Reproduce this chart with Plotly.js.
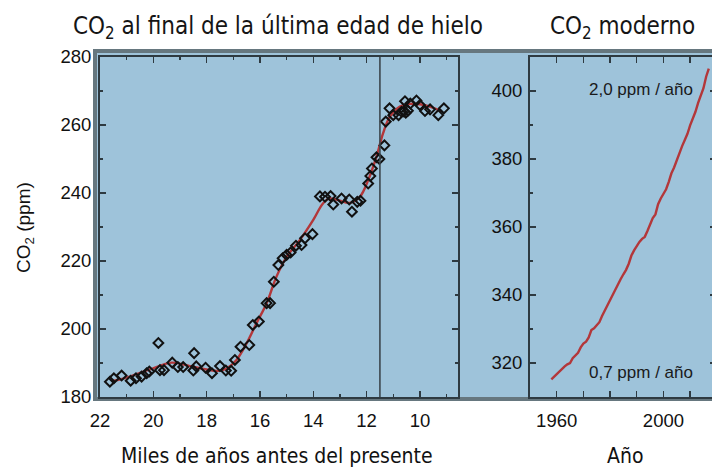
<!DOCTYPE html>
<html><head><meta charset="utf-8">
<script src="https://cdn.plot.ly/plotly-3.0.1.min.js"></script>
<style>html,body{margin:0;padding:0;overflow:hidden;background:#fff}#chart{width:730px;height:470px}</style>
</head><body><div id="chart"></div>
<script>
// Ice-core CO2 (thousands of years before present, ppm)
const iceAge=[21.63,21.48,21.19,20.85,20.65,20.44,20.25,20.15,19.81,19.75,19.60,19.29,19.08,18.88,18.47,18.50,18.39,18.04,17.80,17.50,17.28,17.08,16.94,16.73,16.40,16.27,16.04,15.75,15.62,15.48,15.31,15.15,15.00,14.85,14.65,14.44,14.31,14.03,13.75,13.56,13.35,13.25,12.94,12.65,12.55,12.35,12.23,11.94,11.86,11.80,11.63,11.52,11.33,11.28,11.14,11.00,10.80,10.69,10.60,10.53,10.56,10.45,10.36,10.13,10.00,9.81,9.62,9.31,9.10];
const iceCO2=[184.5,185.5,186.3,184.8,185.5,186.0,187.0,187.5,195.9,187.9,187.9,190.1,188.8,188.8,192.9,187.8,189.0,188.6,187.0,189.1,187.8,187.7,190.9,194.8,195.3,201.2,202.2,207.6,207.6,213.9,218.8,220.8,221.8,222.5,224.5,224.7,226.7,227.9,239.0,238.9,239.1,236.6,238.4,238.1,234.5,237.4,237.7,242.8,245.0,247.2,250.5,250.0,254.0,261.0,264.9,262.9,262.9,263.9,264.0,263.6,267.0,264.2,266.3,267.2,265.9,264.1,264.6,262.9,264.9];
// Smoothed fit
const fitAge=[21.56,20.88,20.13,19.31,18.63,18.00,17.56,17.25,16.88,16.50,16.13,15.75,15.38,15.00,14.50,14.00,13.63,13.38,13.06,12.63,12.25,11.94,11.63,11.38,11.13,10.75,10.38,10.00,9.63,9.19];
const fitCO2=[184.6,186.0,188.1,190.1,189.1,188.1,187.7,188.4,190.9,195.8,201.7,207.6,215.4,221.2,226.2,232.1,237.0,238.4,237.9,237.1,238.9,243.8,250.7,257.6,262.4,265.4,266.2,266.1,265.4,264.1];
// Modern CO2 (year, ppm)
const modYear=[1958,1959,1960,1961,1962,1963,1964,1965,1966,1967,1968,1969,1970,1971,1972,1973,1974,1975,1976,1977,1978,1979,1980,1981,1982,1983,1984,1985,1986,1987,1988,1989,1990,1991,1992,1993,1994,1995,1996,1997,1998,1999,2000,2001,2002,2003,2004,2005,2006,2007,2008,2009,2010,2011,2012,2013,2014,2015,2016,2017];
const modCO2=[315.2,316.0,316.9,317.6,318.5,319.0,319.6,320.0,321.4,322.2,323.0,324.6,325.7,326.3,327.5,329.7,330.2,331.1,332.0,333.8,335.4,336.8,338.8,340.1,341.5,343.1,344.7,346.1,347.4,349.2,351.6,353.1,354.4,355.6,356.5,357.1,358.8,360.8,362.6,363.7,366.7,368.4,369.6,371.1,373.3,375.8,377.5,379.8,381.9,383.8,385.6,387.4,389.9,391.7,393.9,396.5,398.7,400.8,404.2,406.6];
const yearEnd=11.5;

const W=730,H=470;
const px=v=>v/W, py=v=>1-v/H;
const axisCol='#2e3a41', bg='#9ec3da', frameCol='#66777f', red='#b3373a';
const sans='Liberation Sans, Arial, sans-serif';
const tickFont={family:sans,size:18.5,color:'#111'};
const narrow='Liberation Sans Narrow, DejaVu Sans Condensed, Arial Narrow, sans-serif';

const baseAxis={showline:true,linecolor:axisCol,linewidth:2,mirror:'ticks',ticks:'inside',ticklen:6,tickwidth:1.5,tickcolor:axisCol,showgrid:false,zeroline:false,tickfont:tickFont,fixedrange:true};

const traces=[
 {x:fitAge,y:fitCO2,xaxis:'x',yaxis:'y',mode:'lines',line:{color:red,width:2.4,shape:'spline',smoothing:1},hoverinfo:'skip'},
 {x:iceAge,y:iceCO2,xaxis:'x',yaxis:'y',mode:'markers',marker:{symbol:'diamond-open',size:7.5,color:'#111',line:{width:2,color:'#111'}}},
 {x:modYear,y:modCO2,xaxis:'x2',yaxis:'y2',mode:'lines',line:{color:red,width:2.4}}
];

const layout={
 width:W,height:H,margin:{l:0,r:0,t:0,b:0},showlegend:false,
 paper_bgcolor:'#fff',plot_bgcolor:'rgba(0,0,0,0)',
 xaxis:Object.assign({},baseAxis,{domain:[px(100),px(458.3)],range:[22,8.56],tick0:0,dtick:2,minor:{dtick:1,tick0:0,ticks:'inside',ticklen:3,tickwidth:1.5,tickcolor:axisCol},ticklabelstandoff:6}),
 yaxis:Object.assign({},baseAxis,{domain:[py(397),py(57)],range:[180,280],tick0:0,dtick:20,minor:{dtick:10,tick0:0,ticks:'inside',ticklen:3,tickwidth:1.5,tickcolor:axisCol},ticklabelstandoff:3}),
 xaxis2:Object.assign({},baseAxis,{anchor:'y2',domain:[px(530),px(716)],range:[1950,2019.7],tick0:1960,dtick:40,minor:{dtick:10,tick0:1950,ticks:'inside',ticklen:6,tickwidth:1.5,tickcolor:axisCol},ticklabelstandoff:6}),
 yaxis2:Object.assign({},baseAxis,{anchor:'x2',domain:[py(397),py(57)],range:[310,410],tick0:0,dtick:20,minor:{dtick:10,tick0:0,ticks:'inside',ticklen:3,tickwidth:1.5,tickcolor:axisCol},ticklabelstandoff:2}),
 shapes:[
  {type:'rect',xref:'paper',yref:'paper',x0:px(95),x1:px(760),y0:py(399),y1:py(51),fillcolor:bg,line:{color:frameCol,width:4},layer:'below'},
  {type:'line',xref:'x',yref:'y',x0:yearEnd,x1:yearEnd,y0:180,y1:280,line:{color:'#3c474e',width:1.6}}
 ],
 annotations:[
  {text:'CO<sub>2</sub> al final de la última edad de hielo',xref:'paper',yref:'paper',x:px(278),y:py(27),xanchor:'center',yanchor:'middle',showarrow:false,font:{family:narrow,size:24,color:'#151515'}},
  {text:'CO<sub>2</sub> moderno',xref:'paper',yref:'paper',x:px(622),y:py(27),xanchor:'center',yanchor:'middle',showarrow:false,font:{family:narrow,size:24,color:'#151515'}},
  {text:'Miles de años antes del presente',xref:'paper',yref:'paper',x:px(277),y:py(456),xanchor:'center',yanchor:'middle',showarrow:false,font:{family:narrow,size:21,color:'#111'}},
  {text:'Año',xref:'paper',yref:'paper',x:px(625),y:py(456),xanchor:'center',yanchor:'middle',showarrow:false,font:{family:narrow,size:21,color:'#111'}},
  {text:'CO<sub>2</sub> (ppm)',xref:'paper',yref:'paper',x:px(25),y:py(228),xanchor:'center',yanchor:'middle',textangle:-90,showarrow:false,font:{family:sans,size:19,color:'#111'}},
  {text:'2,0 ppm / año',xref:'paper',yref:'paper',x:px(641),y:py(90),xanchor:'center',yanchor:'middle',showarrow:false,font:{family:sans,size:17,color:'#1a1a1a'}},
  {text:'0,7 ppm / año',xref:'paper',yref:'paper',x:px(641),y:py(372),xanchor:'center',yanchor:'middle',showarrow:false,font:{family:sans,size:17,color:'#1a1a1a'}}
 ]
};
Plotly.newPlot('chart',traces,layout,{displayModeBar:false,staticPlot:true});
</script></body></html>
